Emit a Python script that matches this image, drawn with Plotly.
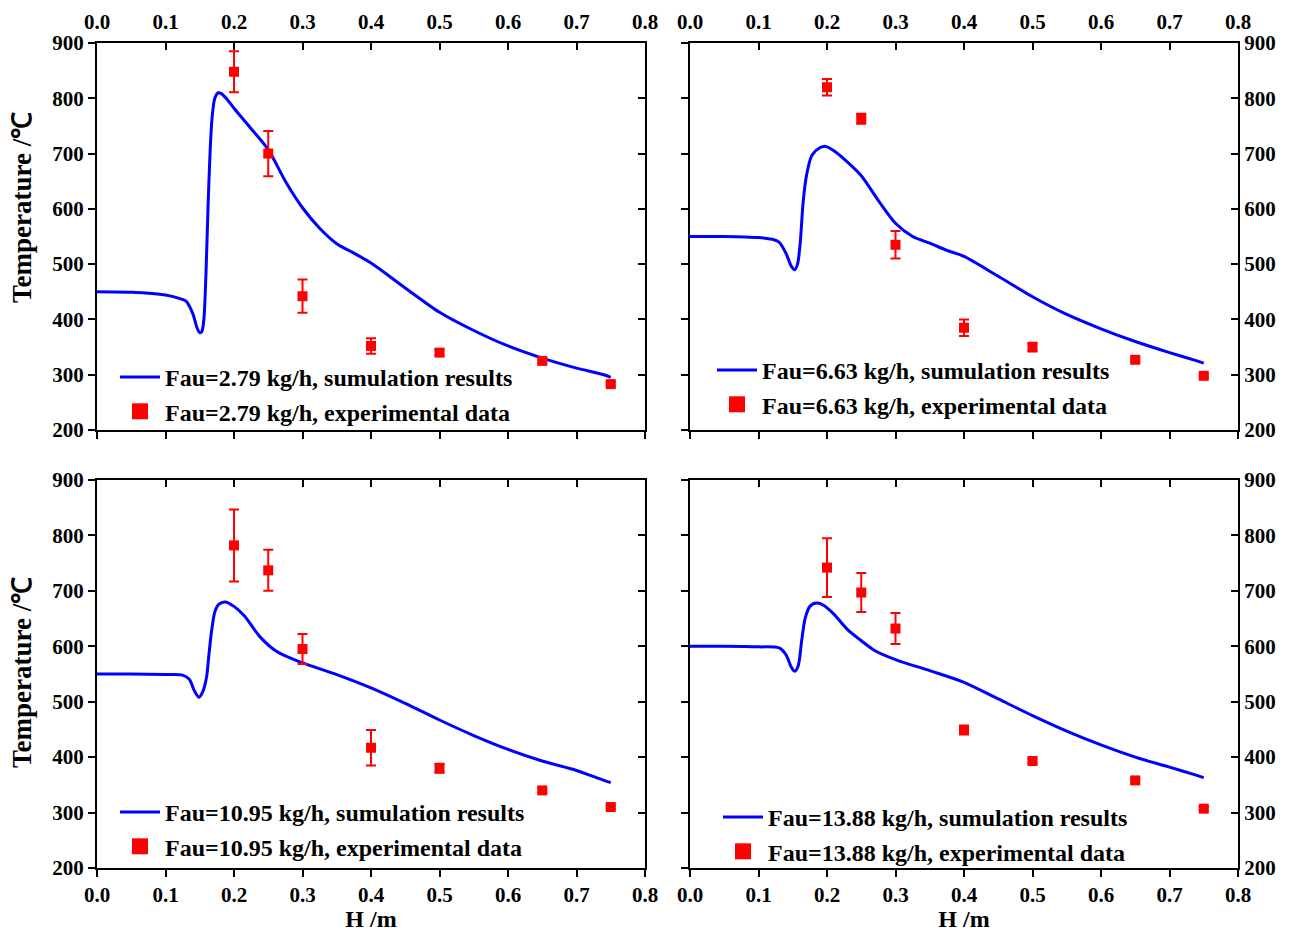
import plotly.graph_objects as go

# ---------------- data ----------------
labels = ["2.79", "6.63", "10.95", "13.88"]

sim_x_1 = [0.00, 0.05, 0.10, 0.12, 0.13, 0.14, 0.146, 0.150, 0.153, 0.156, 0.159, 0.162, 0.165, 0.168,
           0.172, 0.177, 0.182, 0.19, 0.20, 0.225, 0.25, 0.275, 0.30, 0.325, 0.35, 0.375, 0.40, 0.45,
           0.50, 0.55, 0.60, 0.65, 0.70, 0.74, 0.75]
sim_y_1 = [450, 449, 444, 438, 433, 410, 385, 376, 378, 400, 480, 600, 700, 765,
           800, 810, 808, 798, 782, 745, 707, 650, 602, 565, 537, 520, 502, 457,
           413, 380, 352, 330, 312, 300, 295]

sim_x_2 = [0.00, 0.05, 0.10, 0.12, 0.13, 0.14, 0.148, 0.153, 0.157, 0.161, 0.165, 0.170, 0.178, 0.19,
           0.195, 0.20, 0.21, 0.225, 0.25, 0.275, 0.30, 0.325, 0.35, 0.375, 0.40, 0.45, 0.50, 0.55,
           0.60, 0.65, 0.70, 0.74, 0.75]
sim_y_2 = [550, 550, 548, 545, 540, 520, 496, 490, 500, 540, 610, 660, 697, 711,
           713, 712, 705, 690, 660, 615, 574, 550, 538, 525, 514, 478, 441, 409,
           383, 360, 340, 325, 321]

sim_x_3 = [0.00, 0.05, 0.10, 0.125, 0.135, 0.142, 0.149, 0.155, 0.160, 0.163, 0.167, 0.172, 0.178,
           0.187, 0.20, 0.215, 0.238, 0.263, 0.30, 0.35, 0.40, 0.45, 0.50, 0.55, 0.60, 0.65,
           0.70, 0.74, 0.75]
sim_y_3 = [550, 550, 549, 548, 540, 520, 508, 520, 545, 580, 625, 662, 676,
           680, 672, 655, 617, 590, 570, 549, 525, 497, 467, 439, 414, 393,
           376, 358, 354]

sim_x_4 = [0.00, 0.05, 0.10, 0.13, 0.14, 0.148, 0.153, 0.158, 0.163, 0.168, 0.175, 0.185, 0.195,
           0.21, 0.23, 0.25, 0.27, 0.30, 0.35, 0.40, 0.45, 0.50, 0.55, 0.60, 0.65, 0.70, 0.74, 0.75]
sim_y_4 = [600, 600, 599, 597, 585, 562, 555, 565, 610, 650, 672, 678, 674,
           658, 630, 610, 592, 576, 556, 535, 505, 475, 447, 422, 400, 382, 367, 363]

exp_x = [0.20, 0.25, 0.30, 0.40, 0.50, 0.65, 0.75]
exp_y_1 = [848, 700, 442, 352, 340, 325, 283]
exp_e_1 = [37, 41, 30, 14, 5, 5, 4]
exp_y_2 = [820, 763, 535, 385, 350, 327, 298]
exp_e_2 = [15, 9, 25, 15, 8, 4, 3]
exp_y_3 = [782, 737, 595, 417, 380, 340, 310]
exp_e_3 = [65, 37, 27, 32, 8, 4, 3]
exp_y_4 = [742, 697, 632, 449, 393, 358, 307]
exp_e_4 = [53, 35, 28, 8, 4, 4, 3]

sim_x = [sim_x_1, sim_x_2, sim_x_3, sim_x_4]
sim_y = [sim_y_1, sim_y_2, sim_y_3, sim_y_4]
exp_y = [exp_y_1, exp_y_2, exp_y_3, exp_y_4]
exp_e = [exp_e_1, exp_e_2, exp_e_3, exp_e_4]

x_range = [0, 0.8]
y_range = [200, 900]
y_title = "Temperature /℃"
x_title = "H /m"

# ---------------- layout geometry ----------------
W, H = 1291, 932
L, R, T, B = 97, 53, 43, 64
pw = W - L - R
ph = H - T - B
xdom = [[0, (645 - 97) / pw], [(690 - 97) / pw, 1]]
ydom_top = [(868 - 430) / ph, 1]
ydom_bot = [0, (868 - 480) / ph]

FONT = "Liberation Serif"
tickfont = dict(family=FONT, size=21, color="black", weight="bold")

fig = go.Figure()

panels = [
    dict(xd=xdom[0], yd=ydom_top, top=True, right=False, leg=(115, 355)),
    dict(xd=xdom[1], yd=ydom_top, top=True, right=True, leg=(712, 348)),
    dict(xd=xdom[0], yd=ydom_bot, top=False, right=False, leg=(115, 790)),
    dict(xd=xdom[1], yd=ydom_bot, top=False, right=True, leg=(718, 795)),
]

layout = {}
annotations = []
for i, p in enumerate(panels, start=1):
    xa = "x" if i == 1 else f"x{i}"
    ya = "y" if i == 1 else f"y{i}"
    xo = f"x{i+4}"
    yo = f"y{i+4}"
    lg = "legend" if i == 1 else f"legend{i}"
    common = dict(showline=True, linewidth=2, linecolor="black", showgrid=False, zeroline=False,
                  ticklen=7, tickwidth=2, tickcolor="black", tickfont=tickfont, automargin=False)
    layout[f"xaxis{i}"] = dict(domain=p["xd"], anchor=ya, range=x_range, dtick=0.1, tickformat=".1f",
                              ticks="outside", side="bottom", showticklabels=not p["top"], **common)
    layout[f"xaxis{i+4}"] = dict(overlaying=xa, anchor=ya, side="top", range=x_range, dtick=0.1,
                                tickformat=".1f", ticks="inside", showticklabels=p["top"],
                                ticklabelstandoff=4, **common)
    layout[f"yaxis{i}"] = dict(domain=p["yd"], anchor=xa, range=y_range, dtick=100, ticks="outside",
                              side="left", showticklabels=not p["right"], **common)
    layout[f"yaxis{i+4}"] = dict(overlaying=ya, anchor=xa, side="right", range=y_range, dtick=100,
                                ticks="inside", showticklabels=p["right"], **common)
    if not p["top"]:
        layout[f"xaxis{i}"]["title"] = dict(text=x_title, standoff=0,
                                            font=dict(family=FONT, size=24, color="black", weight="bold"))
    lx = (p["leg"][0] - L) / pw
    ly = (H - B - p["leg"][1]) / ph
    layout[lg] = dict(x=lx, y=ly, xanchor="left", yanchor="top", bgcolor="rgba(0,0,0,0)",
                      font=dict(family=FONT, size=24, color="black", weight="bold"),
                      tracegroupgap=0, itemwidth=40)

    lab = labels[i - 1]
    fig.add_trace(go.Scatter(x=sim_x[i - 1], y=sim_y[i - 1], mode="lines", xaxis=xa, yaxis=ya,
                             line=dict(color="#0000FF", width=3, shape="spline", smoothing=0.8),
                             name=f"Fau={lab} kg/h, sumulation results", legend=lg, showlegend=True))
    fig.add_trace(go.Scatter(x=exp_x, y=exp_y[i - 1], mode="markers", xaxis=xa, yaxis=ya,
                             marker=dict(symbol="square", size=10, color="#FF0000"),
                             error_y=dict(type="data", array=exp_e[i - 1], color="#FF0000",
                                          thickness=2, width=5),
                             name=f"Fau={lab} kg/h, experimental data", legend=lg, showlegend=False))
    fig.add_trace(go.Scatter(x=[None], y=[None], mode="markers", xaxis=xa, yaxis=ya,
                             marker=dict(symbol="square", size=16, color="#FF0000"),
                             name=f"Fau={lab} kg/h, experimental data", legend=lg, showlegend=True))
    # empty traces so the overlaying (top / right) axes are drawn
    fig.add_trace(go.Scatter(x=[None], y=[None], mode="markers", xaxis=xo, yaxis=ya,
                             showlegend=False, hoverinfo="skip"))
    fig.add_trace(go.Scatter(x=[None], y=[None], mode="markers", xaxis=xa, yaxis=yo,
                             showlegend=False, hoverinfo="skip"))

# y-axis titles placed as rotated text
for ypix in (208, 673):
    annotations.append(dict(text=y_title, textangle=-90, xref="paper", yref="paper",
                            x=(22 - L) / pw, y=(H - B - ypix) / ph, xanchor="center", yanchor="middle",
                            showarrow=False,
                            font=dict(family=FONT, size=27, color="black", weight="bold")))

fig.update_layout(
    width=W, height=H,
    margin=dict(l=L, r=R, t=T, b=B, autoexpand=False),
    paper_bgcolor="white", plot_bgcolor="white",
    font=dict(family=FONT, color="black"),
    annotations=annotations,
    **layout,
)

fig.write_html("out.html")
